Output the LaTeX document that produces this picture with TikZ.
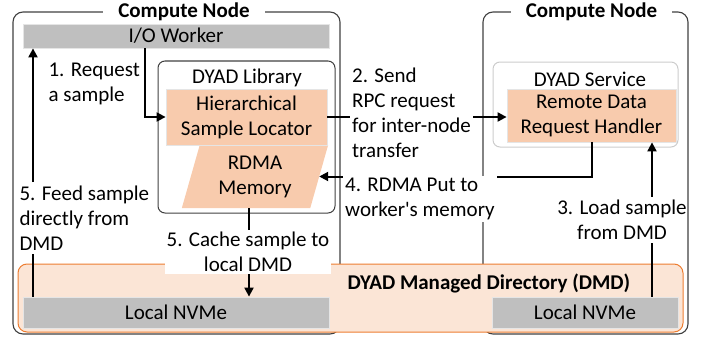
\documentclass[tikz,border=0pt]{standalone}
\usepackage{fontspec}
\setmainfont{Carlito}[Ligatures=TeXOff]
\usetikzlibrary{arrows.meta,backgrounds}

\definecolor{peach}{RGB}{248,203,173}
\definecolor{dmdFill}{RGB}{251,229,214}
\definecolor{dmdLine}{RGB}{237,125,49}
\definecolor{barGray}{RGB}{191,191,191}

\begin{document}
\begin{tikzpicture}[x=1pt,y=1pt,yscale=-1,
  font=\fontsize{21}{25}\selectfont,
  cbox/.style={draw=black!75,line width=1.1pt,rounded corners=10pt,inner sep=0pt},
  ctitle/.style={fill=white,font=\fontsize{21}{25}\selectfont\bfseries,inner xsep=15pt,inner ysep=1pt},
  libbox/.style={draw=black!75,line width=1pt,rounded corners=7pt,inner sep=0pt},
  svcbox/.style={draw=black!20,line width=1pt,rounded corners=7pt,inner sep=0pt},
  graybar/.style={fill=barGray,draw=black!10,line width=0.8pt,inner sep=0pt},
  peachbox/.style={fill=peach,draw=black!10,line width=0.8pt,inner sep=0pt,align=center},
  dmdband/.style={fill=dmdFill,draw=dmdLine,line width=1pt,rounded corners=9pt,inner sep=0pt},
  flow/.style={line width=2pt,-{Triangle[length=9pt,width=9pt]}},
  lbl/.style={fill=white,inner sep=2pt}]
\useasboundingbox (0,0) rectangle (706,337);

% compute nodes
\node[cbox,minimum width=327pt,minimum height=322pt] (cnA) at (176.5,173) {};
\node[cbox,minimum width=205pt,minimum height=322pt] (cnB) at (585.5,173) {};
\node[ctitle] (cnAT) at (184,12) {Compute Node};
\node[ctitle] (cnBT) at (591.5,12) {Compute Node};

% DYAD managed directory
\node[dmdband,minimum width=665pt,minimum height=68pt] (dmd) at (350.5,298) {};
\node[anchor=west,font=\fontsize{21}{25}\selectfont\bfseries] (dmdT) at (344,283) {DYAD Managed Directory (DMD)};
\node[graybar,minimum width=306pt,minimum height=31pt] (nvA) at (176,312.5) {Local NVMe};
\node[graybar,minimum width=186pt,minimum height=31pt] (nvB) at (585,312.5) {Local NVMe};

% worker side
\node[graybar,minimum width=306pt,minimum height=24pt] (iow) at (176,36) {I/O Worker};
\node[libbox,minimum width=177pt,minimum height=152pt] (lib) at (246.5,137) {};
\node (libT) at (247,78) {DYAD Library};
\node[peachbox,minimum width=161pt,minimum height=56pt] (hsl) at (246.5,117) {Hierarchical\\Sample Locator};
\node[align=center,inner sep=0pt,minimum width=128pt,minimum height=63pt] (rdma) at (255,176.5) {RDMA\\Memory};
\begin{scope}[on background layer]
  % parallelogram behind the memory text
  \fill[peach] ([xshift=9pt]rdma.north west) -- ([xshift=9pt]rdma.north east)
    -- ([xshift=-9pt]rdma.south east) -- ([xshift=-9pt]rdma.south west) -- cycle;
\end{scope}

% service side
\node[svcbox,minimum width=185pt,minimum height=85pt] (svc) at (585.5,104.5) {};
\node (svcT) at (590,79) {DYAD Service};
\node[peachbox,minimum width=169pt,minimum height=53pt] (rdrh) at (591.5,115.5) {Remote Data\\Request Handler};

% labels
\node[anchor=west,align=left] (l1) at (45,84) {1. Request\\a sample};
\node[anchor=west,align=left] (l5a) at (16,218) {5. Feed sample\\directly from\\DMD};
\node[align=center] (l3) at (622,220) {3. Load sample\\from DMD};

% flows
\draw[flow] ([xshift=-31pt]iow.south) |- (hsl.west);
\draw[flow] (hsl.east) -- (hsl.east -| rdrh.west);
\draw[flow] (rdrh.south) |- (rdma.east);
\draw[line width=2pt] ([xshift=67pt]nvB.north) -- ([xshift=67pt]nvB.north |- l3.south);
\draw[flow] ([xshift=67pt]nvB.north |- l3.north) -- ([xshift=67pt]nvB.north |- rdrh.south);
\draw[line width=2pt] ([xshift=-143pt]nvA.north) -- ([xshift=-143pt]nvA.north |- l5a.south);
\draw[flow] ([xshift=-143pt]nvA.north |- l5a.north) -- ([xshift=-143pt]nvA.north |- iow.south);
\draw[flow] ([xshift=-6pt]rdma.south) -- ([xshift=-6pt]rdma.south |- nvA.north);

% labels over flows
\node[lbl,anchor=west,align=left] (l2) at (350,112.5) {2. Send\\RPC request\\for inter-node\\transfer};
\node[lbl,anchor=west,align=left] (l4) at (343,199) {4. RDMA Put to\\worker's memory};
\node[lbl,align=center] (l5b) at (248,252) {5. Cache sample to\\local DMD};
\end{tikzpicture}
\end{document}
